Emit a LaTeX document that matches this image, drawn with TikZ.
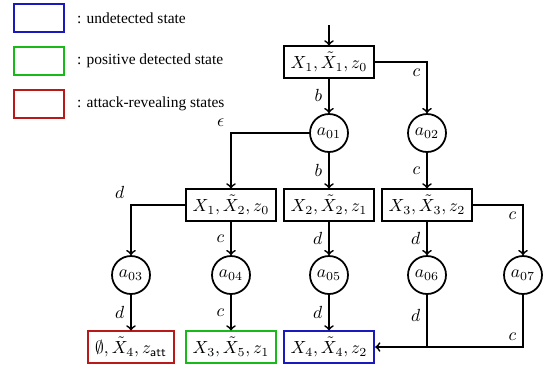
\documentclass[tikz,border=0pt]{standalone}
\usepackage[no-math]{fontspec}
\setmainfont{Liberation Serif}
\definecolor{undetblue}{RGB}{25,25,190}
\definecolor{posgreen}{RGB}{25,185,25}
\definecolor{attred}{RGB}{185,25,25}
\begin{document}
\begin{tikzpicture}[x=0.02cm, y=-0.02cm,
            state/.style={rectangle, draw, line width=1pt, minimum height=0.62cm, inner xsep=4pt},
            act/.style={circle, draw, line width=1pt, minimum size=0.76cm, inner sep=0pt},
            legbox/.style={rectangle, draw, line width=1pt, minimum width=1cm, minimum height=0.56cm},
            legtext/.style={anchor=west, font=\fontsize{8.8}{10}\selectfont},
            arrow/.style={->, line width=1pt},
            line/.style={line width=1pt}
        ]
            \useasboundingbox (0,0) rectangle (547,370);
            
            % Legend
            \node[legbox, draw=undetblue] (lgund) at (39,18) {};
            \node[legtext] (lgundtxt) at (71,18) {: undetected state};
            \node[legbox, draw=posgreen] (lgpos) at (39,61) {};
            \node[legtext] (lgpostxt) at (71,61) {: positive detected state};
            \node[legbox, draw=attred] (lgatt) at (39,104) {};
            \node[legtext] (lgatttxt) at (71,104) {: attack-revealing states};
            
            % Initial state
            \coordinate (init) at (329,25);
            \node[state] (s1) at (329,62) {$X_1, \tilde{X}_1, z_0$};
            
            % First actions
            \node[act] (a01) at (329,133) {$a_{01}$};
            \node[act] (a02) at (427,133) {$a_{02}$};
            
            % Second states
            \node[state] (s2) at (231,205) {$X_1, \tilde{X}_2, z_0$};
            \node[state] (s3) at (329,205) {$X_2, \tilde{X}_2, z_1$};
            \node[state] (s4) at (427,205) {$X_3, \tilde{X}_3, z_2$};
            
            % Second actions
            \node[act] (a03) at (131,275) {$a_{03}$};
            \node[act] (a04) at (231,275) {$a_{04}$};
            \node[act] (a05) at (329,275) {$a_{05}$};
            \node[act] (a06) at (427,275) {$a_{06}$};
            \node[act] (a07) at (523,275) {$a_{07}$};
            
            % Final states
            \node[state, draw=attred] (s5) at (131,347) {$\emptyset, \tilde{X}_4, z_{\mathsf{att}}$};
            \node[state, draw=posgreen] (s6) at (231,347) {$X_3, \tilde{X}_5, z_1$};
            \node[state, draw=undetblue] (s7) at (329,347) {$X_4, \tilde{X}_4, z_2$};
            
            % Connections
            \draw[arrow] (init) -- (s1);
            \draw[arrow] (s1) -- node[left] {$b$} (a01);
            \draw[arrow] (s1.east) -| node[pos=0.5, below left] {$c$} (a02);
            \draw[arrow] (a01.west) -| node[pos=0.5, above left] {$\epsilon$} (s2);
            \draw[arrow] (a01) -- node[left] {$b$} (s3);
            \draw[arrow] (a02) -- node[left] {$c$} (s4);
            \draw[arrow] (s2.west) -| node[pos=0.5, above left] {$d$} (a03);
            \draw[arrow] (s2) -- node[left] {$c$} (a04);
            \draw[arrow] (s3) -- node[left] {$d$} (a05);
            \draw[arrow] (s4) -- node[left] {$d$} (a06);
            \draw[arrow] (s4.east) -| node[pos=0.5, below left] {$c$} (a07);
            \draw[arrow] (a03) -- node[left] {$d$} (s5);
            \draw[arrow] (a04) -- node[left] {$c$} (s6);
            \draw[arrow] (a05) -- node[left] {$d$} (s7);
            \draw[line] (a06) -- node[pos=0.4, left] {$d$} (a06 |- s7.east);
            \draw[arrow] (a07) |- node[pos=0.5, above left] {$c$} (s7.east);
            
        \end{tikzpicture}
\end{document}
